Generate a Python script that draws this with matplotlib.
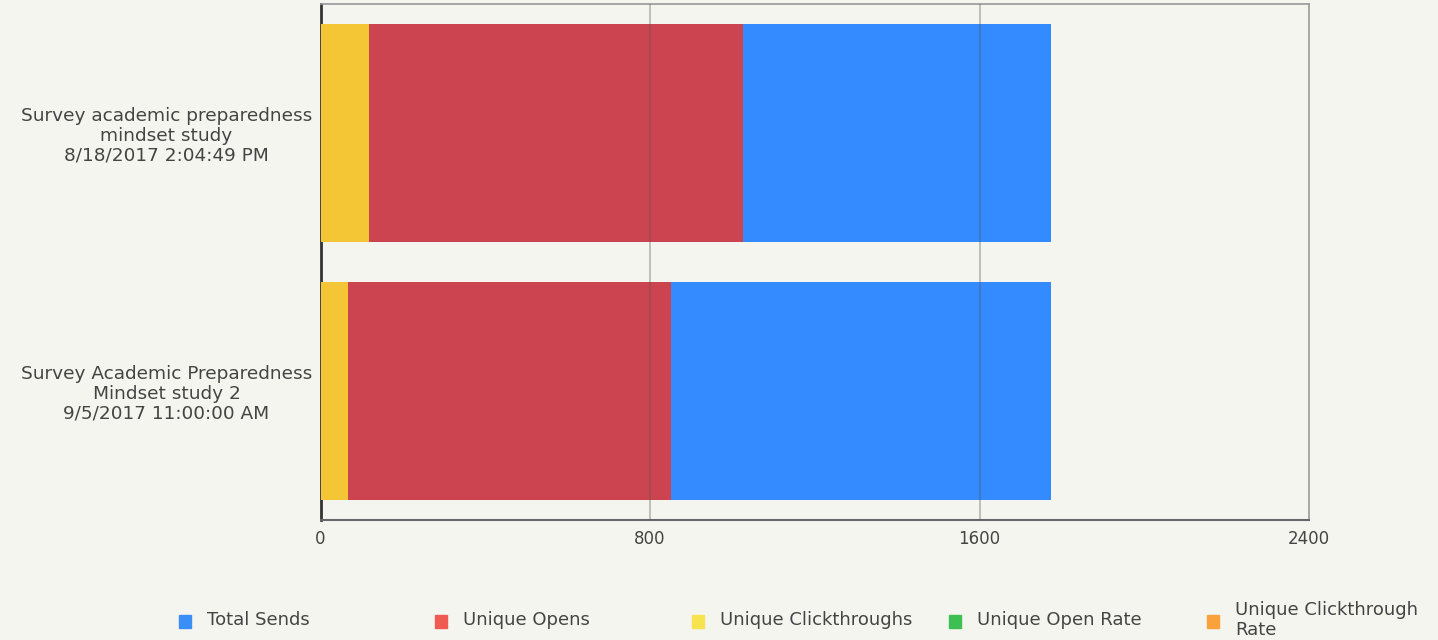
import matplotlib
matplotlib.use("Agg")
import matplotlib.pyplot as plt
from matplotlib.patches import Rectangle

categories = [
    "Survey academic preparedness\nmindset study\n8/18/2017 2:04:49 PM",
    "Survey Academic Preparedness\nMindset study 2\n9/5/2017 11:00:00 AM",
]
total_sends = [1773, 1773]
unique_opens = [1026, 851]
unique_clickthroughs = [118, 67]
xticks = [0, 800, 1600, 2400]

legend_labels = ["Total Sends", "Unique Opens", "Unique Clickthroughs",
                 "Unique Open Rate", "Unique Clickthrough\nRate"]
legend_colors = ["#3a8ef5", "#ef5b52", "#f7e34d", "#3dbf52", "#f9a23b"]

bg = "#f5f5f0"
W, H = 1438, 640
fig = plt.figure(figsize=(W / 100, H / 100), dpi=100, facecolor=bg)
ax = fig.add_axes([320.5 / W, 1 - 520 / H, (1309 - 320.5) / W, (520 - 4) / H])
ax.set_facecolor(bg)

y = [0, 1]
h = 0.845
ax.barh(y, total_sends, height=h, color="#338bff", zorder=2)
ax.barh(y, unique_opens, height=h, color="#cd4451", zorder=3)
ax.barh(y, unique_clickthroughs, height=h, color="#f4c534", zorder=4)

ax.set_xlim(0, 2400)
ax.set_ylim(1.5, -0.5)
ax.set_xticks(xticks)
ax.set_xticklabels([str(v) for v in xticks], fontsize=12, color="#444444")
ax.set_yticks(y)
ax.set_yticklabels(categories, fontsize=13.3, color="#444444",
                   multialignment="center", linespacing=1.13)
ax.tick_params(axis="both", length=0, pad=7)
ax.tick_params(axis="y", pad=6)
for v in xticks[1:-1]:
    ax.axvline(v, color="#555555", alpha=0.4, lw=1.2, zorder=5)

ax.spines["left"].set_color("#333333")
ax.spines["left"].set_linewidth(2)
ax.spines["bottom"].set_color("#666666")
ax.spines["bottom"].set_linewidth(1.5)
for s in ("top", "right"):
    ax.spines[s].set_color("#999999")
    ax.spines[s].set_linewidth(1.2)

lx = [185, 441, 698, 955, 1213]
for x, lab, c in zip(lx, legend_labels, legend_colors):
    fig.patches.append(Rectangle(((x - 6) / W, 1 - 628 / H), 12 / W, 13 / H,
                                 transform=fig.transFigure, color=c))
    fig.text((x + 22) / W, 1 - 620 / H, lab, fontsize=13, color="#444444",
             va="center", ha="left", linespacing=1.12)

fig.savefig("out.png", dpi=100, facecolor=bg)
